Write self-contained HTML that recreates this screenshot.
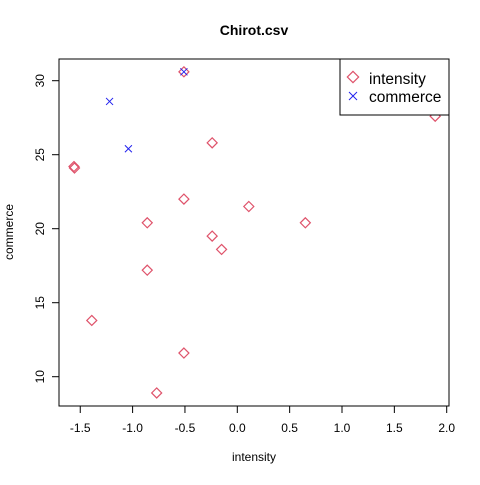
<!DOCTYPE html>
<html><head><meta charset="utf-8"><style>
body{margin:0;background:#fff;}
svg text{font-family:"Liberation Sans",Arial,sans-serif;}
</style></head><body>
<svg id="chart" width="480" height="480" viewBox="0 0 480 480">
<rect width="480" height="480" fill="#fff"/>
<text x="254" y="35" text-anchor="middle" font-size="14" font-weight="bold">Chirot.csv</text>
<text x="254" y="461" text-anchor="middle" font-size="12">intensity</text>
<text transform="translate(13,232) rotate(-90)" text-anchor="middle" font-size="12">commerce</text>
<rect x="59" y="59" width="390" height="347" fill="none" stroke="#000"/>
<g id="axes"></g>
<g id="marks"></g>
<g>
<rect x="340" y="59" width="109" height="56" fill="#fff" stroke="#000"/>
<rect x="349" y="73" width="8" height="8" transform="rotate(45 353 77)" fill="none" stroke="#DF536B" stroke-width="1.2"/>
<text x="369" y="84" font-size="15.5">intensity</text>
<path d="M349,92 l8,8 M357,92 l-8,8" stroke="#2222EE" stroke-width="1"/>
<text x="369" y="102" font-size="15.5">commerce</text>
</g>
</svg>
<script>
const xTicks=[-1.5,-1.0,-0.5,0.0,0.5,1.0,1.5,2.0];
const xTickLabels=["-1.5","-1.0","-0.5","0.0","0.5","1.0","1.5","2.0"];
const yTicks=[10,15,20,25,30];
const yTickLabels=["10","15","20","25","30"];
const intensityX=[-0.51,-1.56,-1.555,-0.24,-0.51,0.11,0.65,-0.86,-0.24,-0.15,1.89,-0.86,-1.39,-0.51,-0.77];
const intensityY=[30.6,24.2,24.1,25.8,22.0,21.5,20.4,20.4,19.5,18.6,27.6,17.2,13.8,11.6,8.9];
const commerceX=[-1.22,-1.04,-0.51];
const commerceY=[28.6,25.4,30.6];
const sx=v=>237.3+v*104.7;
const sy=v=>80.7-(v-30)*14.8;
const NS="http://www.w3.org/2000/svg";
const axes=document.getElementById('axes'),marks=document.getElementById('marks');
function mk(t,a,p){const e=document.createElementNS(NS,t);for(const k in a)e.setAttribute(k,a[k]);p.appendChild(e);return e;}
const xl=mk('line',{x1:sx(xTicks[0]),x2:sx(xTicks[xTicks.length-1]),y1:406,y2:406,stroke:'#000'},axes);


xTicks.forEach((v,i)=>{
 const t=mk('line',{x1:sx(v),x2:sx(v),y1:406,y2:413,stroke:'#000'},axes);
 
 
 const l=mk('text',{x:sx(v),y:432,'text-anchor':'middle','font-size':12},axes);
 l.textContent=xTickLabels[i];
 
 
});
const yl=mk('line',{x1:59,x2:59,y1:sy(yTicks[0]),y2:sy(yTicks[yTicks.length-1]),stroke:'#000'},axes);


yTicks.forEach((v,i)=>{
 const t=mk('line',{x1:52,x2:59,y1:sy(v),y2:sy(v),stroke:'#000'},axes);
 
 
 const l=mk('text',{transform:`translate(44,${sy(v)}) rotate(-90)`,'text-anchor':'middle','font-size':12},axes);
 l.textContent=yTickLabels[i];
 
 
});
intensityX.forEach((v,i)=>{
 const cx=sx(v),cy=sy(intensityY[i]);
 const p=mk('path',{d:`M${cx},${cy-5} L${cx+5},${cy} L${cx},${cy+5} L${cx-5},${cy} Z`,fill:'none',stroke:'#DF536B','stroke-width':1.2},marks);
 
 
});
commerceX.forEach((v,i)=>{
 const cx=sx(v),cy=sy(commerceY[i]);
 const p=mk('path',{d:`M${cx-3.5},${cy-3.5} L${cx+3.5},${cy+3.5} M${cx+3.5},${cy-3.5} L${cx-3.5},${cy+3.5}`,stroke:'#2222EE','stroke-width':1},marks);
 
 
});
</script>
</body></html>
